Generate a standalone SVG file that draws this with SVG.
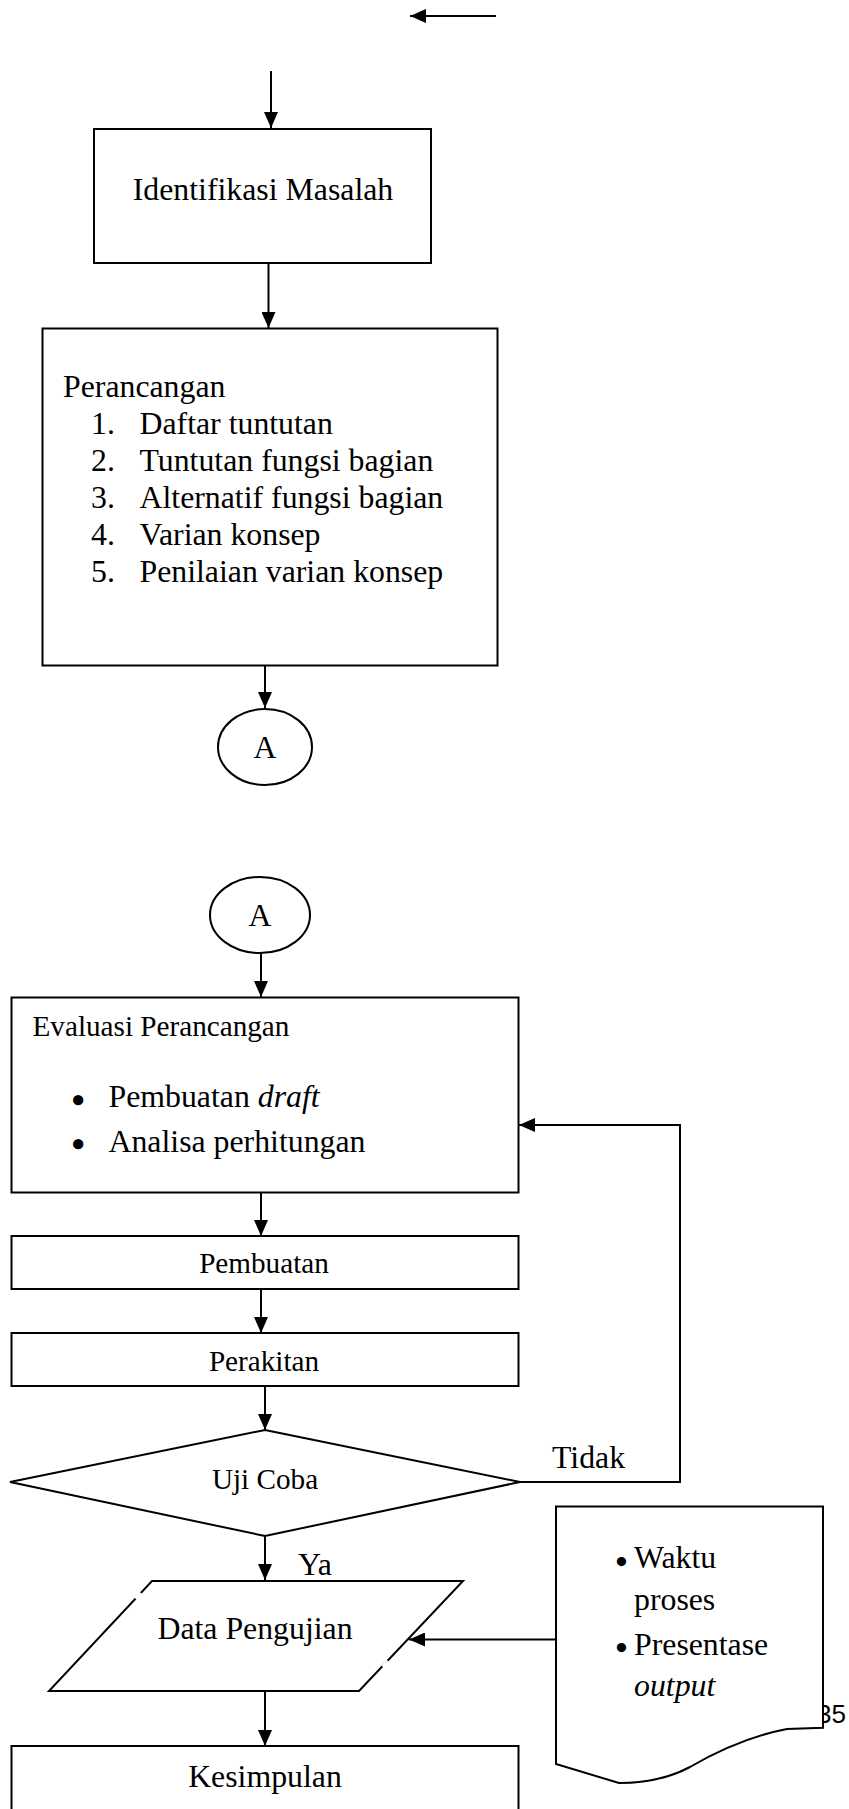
<svg xmlns="http://www.w3.org/2000/svg" width="849" height="1809" viewBox="0 0 849 1809">
<defs>
<marker id="ah" viewBox="0 0 16 14" refX="16" refY="7" markerWidth="16" markerHeight="14" orient="auto" markerUnits="userSpaceOnUse">
<path d="M0,0 L16,7 L0,14 z" fill="#000"/>
</marker>
<style>
.box{fill:#fff;stroke:#000;stroke-width:2}
.ln{fill:none;stroke:#000;stroke-width:2}
.t{font-family:"Liberation Serif","Times New Roman",serif;font-size:31.8px;fill:#000}
.s{font-family:"Liberation Serif","Times New Roman",serif;font-size:29.2px;fill:#000}
.c{text-anchor:middle}
.i{font-style:italic}
.gap{stroke:#fff;stroke-width:4}
.b1{font-size:38px;font-weight:bold}
.b2{font-size:34px;font-weight:bold}
</style>
</defs>
<rect width="849" height="1809" fill="#fff"/>
<text x="846" y="1723" text-anchor="end" font-family="'Liberation Sans',Arial,sans-serif" font-size="26" fill="#000">35</text>
<g id="connectors">
<path class="ln" d="M496,16 L410,16" marker-end="url(#ah)"/>
<path class="ln" d="M271,71 L271,128" marker-end="url(#ah)"/>
<path class="ln" d="M268.5,263 L268.5,328" marker-end="url(#ah)"/>
<path class="ln" d="M265,666 L265,708" marker-end="url(#ah)"/>
<path class="ln" d="M261,953 L261,997" marker-end="url(#ah)"/>
<path class="ln" d="M261,1193 L261,1236" marker-end="url(#ah)"/>
<path class="ln" d="M261,1289 L261,1333" marker-end="url(#ah)"/>
<path class="ln" d="M265,1386 L265,1430" marker-end="url(#ah)"/>
<path class="ln" d="M520,1482 L680,1482 L680,1125 L519,1125" marker-end="url(#ah)"/>
<path class="ln" d="M265,1536 L265,1580" marker-end="url(#ah)"/>
<path class="ln" d="M556,1639.5 L409,1639.5" marker-end="url(#ah)"/>
<path class="ln" d="M265,1691 L265,1746" marker-end="url(#ah)"/>
<text class="t" x="552" y="1468">Tidak</text>
<text class="t" x="298" y="1575">Ya</text>
</g>
<g id="identifikasi">
<rect class="box" x="94" y="129" width="337" height="134"/>
<text class="t c" x="263" y="200">Identifikasi Masalah</text>
</g>
<g id="perancangan">
<rect class="box" x="42.5" y="328.5" width="455" height="337"/>
<text class="t" x="63" y="397">Perancangan</text>
<text class="t" x="91" y="434">1.</text><text class="t" x="139.5" y="434">Daftar tuntutan</text>
<text class="t" x="91" y="471">2.</text><text class="t" x="139.5" y="471">Tuntutan fungsi bagian</text>
<text class="t" x="91" y="508">3.</text><text class="t" x="139.5" y="508">Alternatif fungsi bagian</text>
<text class="t" x="91" y="545">4.</text><text class="t" x="139.5" y="545">Varian konsep</text>
<text class="t" x="91" y="582">5.</text><text class="t" x="139.5" y="582">Penilaian varian konsep</text>
</g>
<g id="connectorA1">
<ellipse class="box" cx="265" cy="747" rx="47" ry="38"/>
<text class="t c" x="265" y="758">A</text>
</g>
<g id="connectorA2">
<ellipse class="box" cx="260" cy="915" rx="50" ry="38"/>
<text class="t c" x="260" y="926">A</text>
</g>
<g id="evaluasi">
<rect class="box" x="11.5" y="997.5" width="507" height="195"/>
<text class="s" x="32.5" y="1036">Evaluasi Perancangan</text>
<text class="t b1" x="71.5" y="1113">•</text>
<text class="t" x="108.5" y="1107">Pembuatan <tspan class="i">draft</tspan></text>
<text class="t b1" x="71.5" y="1157">•</text>
<text class="t" x="108.5" y="1152">Analisa perhitungan</text>
</g>
<g id="pembuatan">
<rect class="box" x="11.5" y="1236" width="507" height="53"/>
<text class="s c" x="264" y="1273">Pembuatan</text>
</g>
<g id="perakitan">
<rect class="box" x="11.5" y="1333" width="507" height="53"/>
<text class="s c" x="264" y="1371">Perakitan</text>
</g>
<g id="ujicoba">
<polygon class="box" points="265,1430 520,1482 265,1536 10,1482"/>
<text class="s c" x="265" y="1489">Uji Coba</text>
</g>
<g id="data">
<polygon class="box" points="152,1581 463,1581 359,1691 49,1691"/>
<line class="gap" x1="136" y1="1599" x2="141" y2="1593"/>
<line class="gap" x1="383" y1="1667" x2="388" y2="1661"/>
<text class="t c" x="255" y="1639">Data Pengujian</text>
</g>
<g id="dokumen">
<path class="box" d="M556,1506.5 L823,1506.5 L823,1727.7 L787,1729 Q740,1738 690,1767 Q660,1783 619,1783 L556,1764 Z"/>
<text class="t b2" x="615.5" y="1573">•</text>
<text class="t" x="634" y="1568">Waktu</text>
<text class="t" x="634" y="1610">proses</text>
<text class="t b2" x="615.5" y="1659">•</text>
<text class="t" x="634" y="1655">Presentase</text>
<text class="t i" x="634" y="1696">output</text>
</g>
<g id="kesimpulan">
<rect class="box" x="11.5" y="1746" width="507" height="100"/>
<text class="t c" x="265" y="1787">Kesimpulan</text>
</g>
</svg>
